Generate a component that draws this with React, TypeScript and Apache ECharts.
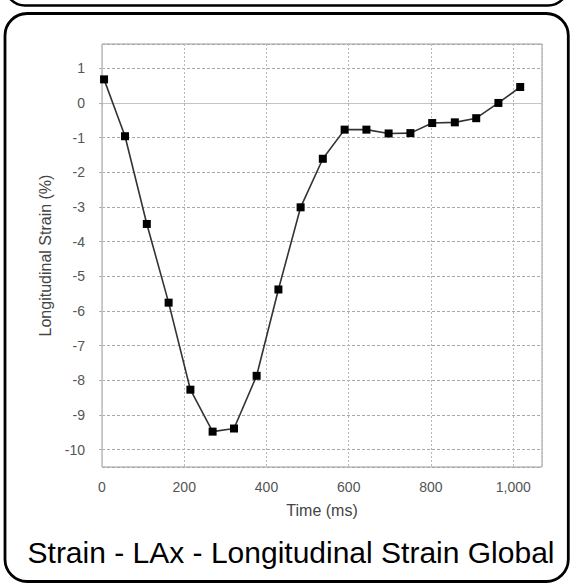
import React, { useEffect, useRef } from "react";
import * as echarts from "echarts";

const timeMs = [5, 56, 109, 162, 215, 269, 321, 376, 429, 483, 537, 590, 643, 697, 750, 803, 858, 910, 964, 1017];
const strainPct = [0.68, -0.96, -3.49, -5.76, -8.27, -9.48, -9.39, -7.87, -5.38, -3.01, -1.61, -0.77, -0.77, -0.88, -0.87, -0.58, -0.56, -0.44, 0.0, 0.46];

const chartTitle = "Strain - LAx - Longitudinal Strain Global";
const xAxisName = "Time (ms)";
const yAxisName = "Longitudinal Strain (%)";
const xRange = [0, 1070];
const yRange = [-10.5, 1.7];

const FONT = "'Liberation Sans', Arial, Helvetica, sans-serif";

export default function App() {
  const ref = useRef<HTMLDivElement>(null);

  useEffect(() => {
    if (!ref.current) return;
    const chart = echarts.init(ref.current, null, { renderer: "svg" });
    const points = timeMs.map((t, i) => [t, strainPct[i]]);
    chart.setOption({
      animation: false,
      backgroundColor: "#ffffff",
      textStyle: { fontFamily: FONT },
      grid: {
        left: 102,
        top: 44,
        width: 440,
        height: 423,
        show: true,
        borderColor: "#9a9a9a",
        borderWidth: 1,
        containLabel: false,
        outerBoundsMode: "none",
      },
      xAxis: {
        type: "value",
        min: xRange[0],
        max: xRange[1],
        interval: 200,
        offset: 6,
        name: xAxisName,
        nameLocation: "middle",
        nameGap: 29,
        nameTextStyle: { fontSize: 16, color: "#444", fontFamily: FONT },
        axisLine: { show: true, lineStyle: { color: "#c4c4c4", width: 1 } },
        axisTick: { show: true, length: 3, lineStyle: { color: "#b0b0b0" } },
        axisLabel: {
          fontSize: 14,
          color: "#555",
          margin: 7,
          fontFamily: FONT,
          showMaxLabel: false,
          formatter: (v: number) => v.toLocaleString("en-US"),
        },
        splitLine: { show: true, lineStyle: { color: "#b8b8b8", type: [2, 2], width: 1 } },
      },
      yAxis: {
        type: "value",
        min: yRange[0],
        max: yRange[1],
        splitNumber: 12,
        minInterval: 1,
        maxInterval: 1,
        offset: 7,
        name: yAxisName,
        nameLocation: "middle",
        nameGap: 37,
        nameRotate: 90,
        nameTextStyle: { fontSize: 16, color: "#444", fontFamily: FONT },
        axisLine: { show: true, lineStyle: { color: "#c4c4c4", width: 1 } },
        axisTick: { show: true, length: 3, lineStyle: { color: "#b0b0b0" } },
        axisLabel: {
          fontSize: 14,
          color: "#555",
          margin: 10,
          fontFamily: FONT,
          showMinLabel: false,
          showMaxLabel: false,
        },
        splitLine: { show: true, lineStyle: { color: "#a8a8a8", type: [3, 2], width: 1 } },
      },
      series: [
        {
          type: "line",
          data: points,
          symbol: "rect",
          symbolSize: 8,
          itemStyle: { color: "#000" },
          lineStyle: { color: "#333", width: 1.6 },
          clip: false,
        },
      ],
      graphic: [
        {
          type: "rect",
          shape: { x: 5, y: -40, width: 563, height: 45.5, r: 20 },
          style: { fill: "none", stroke: "#000", lineWidth: 2.5 },
          silent: true,
        },
        {
          type: "rect",
          shape: { x: 5, y: 13.5, width: 563.3, height: 568, r: 22 },
          style: { fill: "none", stroke: "#000", lineWidth: 2.8 },
          silent: true,
        },
        {
          type: "text",
          x: 291,
          y: 552,
          style: {
            text: chartTitle,
            fontSize: 30,
            fontFamily: FONT,
            fill: "#000",
            textAlign: "center",
            textVerticalAlign: "middle",
          },
          silent: true,
        },
      ],
    });
    return () => chart.dispose();
  }, []);

  return (
    <div
      ref={ref}
      style={{ position: "absolute", left: 0, top: 0, width: 572, height: 584, background: "#fff" }}
    />
  );
}
